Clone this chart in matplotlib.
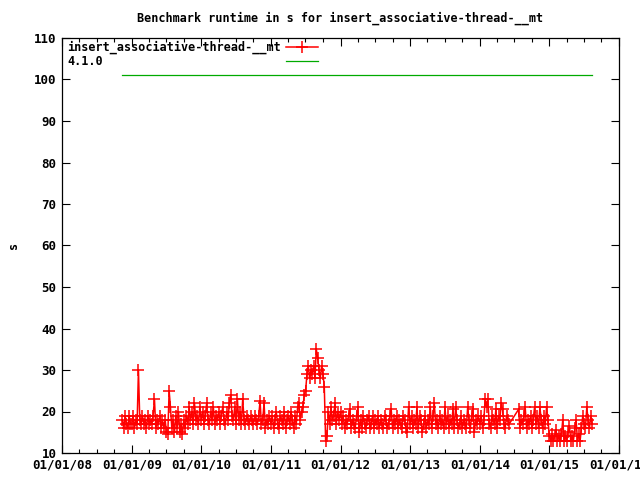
import datetime as dt

import matplotlib
matplotlib.use('Agg')
import matplotlib.pyplot as plt
import matplotlib.dates as mdates
import numpy as np

# weekly runtimes (s), one list per year, week 0 = 1 Jan
start_2008 = dt.date(2008, 11, 13)
runtime_2008 = [18, 16, 19, 17, 16, 19, 17]
runtime_2009 = [17, 19, 16, 18, 17, 30, 18, 17, 19, 17, 18, 16, 19, 17, 18, 17,
                19, 23, 16, 18, 17, 19, 16, 18, 16, 18, 15, 14.5, 25, 21, 16, 18,
                15, 19, 16, 20, 15, 17, 14.5, 18, 16, 19, 17, 21, 18, 20, 17, 22,
                18, 19, 17, 21]
runtime_2010 = [18, 20, 17, 19, 22, 18, 17, 20, 18, 21, 17, 19, 18, 20, 17, 19,
                21, 18, 17, 20, 18, 22, 24, 19, 18, 21, 17, 23, 18, 20, 17, 23,
                18, 17, 19, 18, 17, 19, 18, 17, 19, 18, 17, 19, 22.5, 17, 18, 22,
                16, 18, 17, 19]
runtime_2011 = [17, 19, 16, 18, 20, 17, 16, 19, 18, 17, 20, 16, 18, 19, 17, 20,
                18, 16, 19, 17, 21, 22, 18, 20, 21, 24, 25, 29, 31, 28, 30, 29,
                31, 28, 35, 33, 30, 28, 31, 29, 26, 13, 14, 20, 17, 21, 18, 19,
                22, 17, 20, 18]
runtime_2012 = [20, 17, 19, 16, 18, 17, 19, 20.5, 16, 18, 17, 16, 19, 21, 15, 18,
                16, 19, 17, 16, 18, 19, 16, 17, 19, 16, 18, 17, 19, 16, 18, 17,
                16, 19, 18, 16, 17, 19, 20.5, 16, 18, 17, 19, 16, 18, 17, 16, 19,
                18, 16, 15, 21]
runtime_2013 = [17, 19, 16, 18, 17, 21, 16, 19, 18, 15, 17, 19, 16, 18, 17, 21,
                16, 19, 22, 17, 18, 16, 19, 17, 18, 16, 21, 17, 19, 16, 18, 17,
                20.5, 16, 21, 18, 16, 17, 19, 16, 18, 17, 16, 21, 18, 16, 19, 20.5,
                15, 18, 17, 19]
runtime_2014 = [17, 19, 16, 18, 23, 21, 23, 17, 16, 19, 18, 17, 20.5, 16, 19, 18,
                22, 20.5, 17, 16, 19, 18, 17, None, None, None, None, None, None,
                20.5, 16, 18, 17, 19, 21, 16, 18, 17, 19, 16, 18, 21, 17, 19, 16,
                21, 18, 16, 19, 17, 21, 18]
runtime_2015 = [14, 13, 14.5, 13, 14, 15.5, 13, 14, 13, 14.5, 18, 13, 14, 13, 15,
                16.5, 13, 14, 13, 16, 18, 13, 14.5, 13, 16, 19, 17, 16, 21, 18, 16,
                19, 17]
series_label = 'insert_associative-thread-__mt'
ref_label = '4.1.0'
ref_runtime = 101

dates = []
values = []
for i, v in enumerate(runtime_2008):
    dates.append(start_2008 + dt.timedelta(days=7 * i))
    values.append(v)
for year, vals in [(2009, runtime_2009), (2010, runtime_2010), (2011, runtime_2011),
                   (2012, runtime_2012), (2013, runtime_2013), (2014, runtime_2014),
                   (2015, runtime_2015)]:
    for i, v in enumerate(vals):
        if v is None:
            continue
        dates.append(dt.date(year, 1, 1) + dt.timedelta(days=7 * i))
        values.append(v)

font = {'family': 'DejaVu Sans Mono', 'weight': 'bold', 'size': 9}
small = {'family': 'DejaVu Sans Mono', 'weight': 'bold', 'size': 8.5}
red = '#ff0000'
green = '#00aa00'

fig = plt.figure(figsize=(6.4, 4.8), dpi=100)
ax = fig.add_axes([62 / 640, 1 - 453 / 480, (619 - 62) / 640, (453 - 38) / 480])

ax.plot(dates, values, color=red, lw=1.1, marker='+', ms=8, mew=1.1)
ax.plot([dates[0], dates[-1]], [ref_runtime, ref_runtime], color=green, lw=0.9)

ax.set_xlim(dt.date(2008, 1, 1), dt.date(2016, 1, 1))
ax.set_ylim(10, 110)
ax.set_yticks(np.arange(10, 111, 10))
ax.xaxis.set_major_locator(mdates.YearLocator())
ax.xaxis.set_minor_locator(mdates.MonthLocator(bymonth=[4, 7, 10]))
ax.xaxis.set_major_formatter(mdates.DateFormatter('%m/%d/%y'))
ax.tick_params(which='both', direction='in', top=True, right=True, width=0.8)
ax.tick_params(which='major', length=6, pad=4)
ax.tick_params(which='minor', length=3)
for lab in ax.get_xticklabels() + ax.get_yticklabels():
    lab.set_fontproperties(font)
for sp in ax.spines.values():
    sp.set_linewidth(0.9)

ax.set_title('Benchmark runtime in s for insert_associative-thread-__mt',
             fontdict=small, pad=12)
ax.set_ylabel('s', fontdict=small)
ax.yaxis.set_label_coords(-42 / 557, 0.5)

# gnuplot style key: text left, sample to the right
ax.text(0.009, 0.978, series_label, transform=ax.transAxes, fontdict=small, va='center')
ax.text(0.009, 0.944, ref_label, transform=ax.transAxes, fontdict=small, va='center')
ax.plot([0.402, 0.460], [0.978, 0.978], transform=ax.transAxes, color=red, lw=1.1)
ax.plot([0.431], [0.978], transform=ax.transAxes, color=red, marker='+', ms=8, mew=1.1)
ax.plot([0.402, 0.460], [0.944, 0.944], transform=ax.transAxes, color=green, lw=0.9)

fig.savefig('out.png', dpi=100)
